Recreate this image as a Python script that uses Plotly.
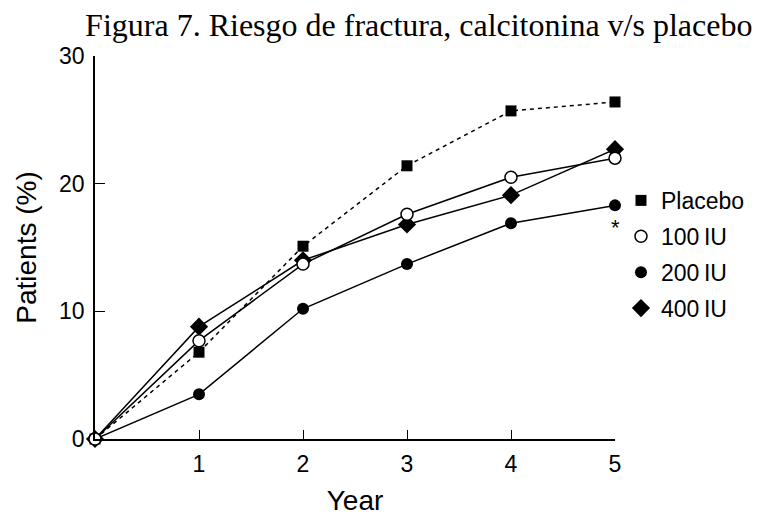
import plotly.graph_objects as go

years = [0, 1, 2, 3, 4, 5]
placebo = [0, 6.8, 15.1, 21.4, 25.7, 26.4]
iu100 = [0, 7.7, 13.7, 17.6, 20.5, 22.0]
iu200 = [0, 3.5, 10.2, 13.7, 16.9, 18.3]
iu400 = [0, 8.8, 14.0, 16.8, 19.1, 22.7]
x_ticks = [1, 2, 3, 4, 5]
y_ticks = [0, 10, 20, 30]

series = [
    ("Placebo", placebo, dict(symbol="square", size=11, color="black"), "4px,4px"),
    ("200 IU", iu200, dict(symbol="circle", size=12, color="black"), "solid"),
    ("400 IU", iu400, dict(symbol="diamond", size=14, color="black"), "solid"),
    ("100 IU", iu100, dict(symbol="circle", size=12, color="white",
                          line=dict(color="black", width=1.5)), "solid"),
]

fig = go.Figure()
for name, vals, mk, dash in series:
    fig.add_trace(go.Scatter(
        x=years, y=vals, mode="lines+markers", name=name,
        line=dict(color="black", width=1.5, dash=dash),
        marker=mk, cliponaxis=False, showlegend=False))

legend_order = ["Placebo", "100 IU", "200 IU", "400 IU"]
mk_map = {s[0]: s[2] for s in series}
for name in legend_order:
    fig.add_trace(go.Scatter(x=[None], y=[None], mode="markers",
                             name=name.replace(" ", "\u2009"), legendgroup=name,
                             marker=mk_map[name]))

fig.add_annotation(x=years[-1], y=iu200[-1], text="*", showarrow=False,
                   yshift=-22, font=dict(size=22, color="black"))

fam = "Liberation Sans, Arial, Helvetica, sans-serif"
axis_font = dict(family=fam, size=23, color="black")
fig.update_layout(
    width=778, height=521,
    margin=dict(l=87, r=171, t=48, b=90, autoexpand=False),
    paper_bgcolor="white", plot_bgcolor="white",
    font=axis_font,
    title=dict(text="Figura 7. Riesgo de fractura, calcitonina v/s placebo",
               font=dict(family="Liberation Serif, Times New Roman, serif", size=32, color="black"),
               x=0.528, xanchor="center", xref="container",
               y=0.967, yanchor="middle", yref="container"),
    legend=dict(x=1.0115, y=0.679, xanchor="left", yanchor="top",
                font=dict(size=23, color="black"), bgcolor="rgba(0,0,0,0)",
                itemwidth=30, tracegroupgap=3),
    xaxis=dict(range=[0, 5], tickvals=x_ticks, ticks="inside", ticklen=9,
               tickcolor="black", showline=True, linecolor="black", linewidth=1.5,
               showgrid=False, zeroline=False, title=dict(text="Year", standoff=14),
               ticklabelstandoff=4, automargin=False),
    yaxis=dict(range=[0, 30], tickvals=y_ticks, ticks="inside", ticklen=10,
               tickcolor="black", showline=True, linecolor="black", linewidth=1.5,
               showgrid=False, zeroline=False, title=dict(text="Patients (%)", standoff=14),
               ticklabelstandoff=4, automargin=False),
)

fig.write_html("out.html")
